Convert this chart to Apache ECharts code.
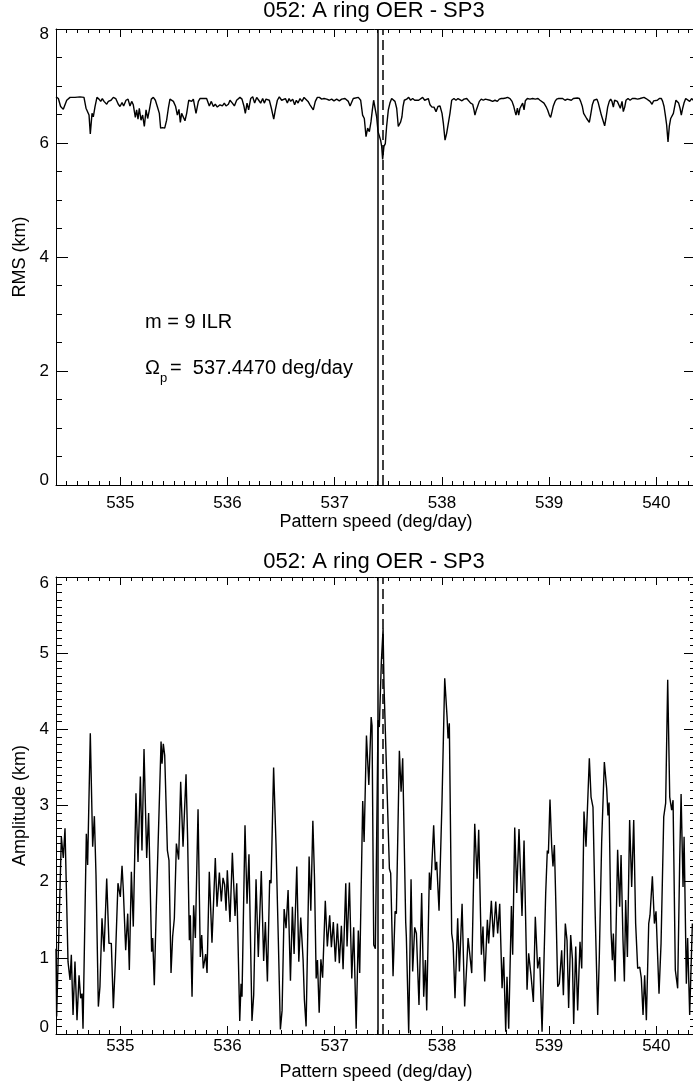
<!DOCTYPE html>
<html><head><meta charset="utf-8">
<script src="https://cdn.jsdelivr.net/npm/echarts@6/dist/echarts.min.js"></script>
<style>html,body{margin:0;padding:0;background:#fff}#c{width:693px;height:1084px}</style>
</head><body><div id="c"></div>
<script>
// ---------- texts ----------
const titleText = '052: A ring OER - SP3';
const xName = 'Pattern speed (deg/day)';
const rmsName = 'RMS (km)';
const ampName = 'Amplitude (km)';
const noteResonance = 'm = 9 ILR';
const noteOmegaValue = '=  537.4470 deg/day';

// ---------- axes ----------
const xMin = 534.4, xMax = 540.37;
const xMajorTicks = [535, 536, 537, 538, 539, 540];
const rmsRange = [0, 8], rmsStep = 2;
const ampRange = [0, 6], ampStep = 1;

// ---------- reference lines ----------
const solidLineX = 537.40;
const dashedLineX = 537.447;

// ---------- data: [pattern speed (deg/day), RMS (km)] ----------
const rmsPoints = [
[534.400,6.81],[534.422,6.78],[534.443,6.64],[534.468,6.59],[534.484,6.61],[534.500,6.75],[534.531,6.80],[534.577,6.80],[534.624,6.81],[534.661,6.80],
[534.680,6.61],[534.695,6.58],[534.708,6.49],[534.720,6.16],[534.736,6.52],[534.748,6.46],[534.764,6.64],[534.782,6.80],[534.801,6.77],[534.817,6.73],
[534.832,6.78],[534.848,6.73],[534.873,6.68],[534.888,6.73],[534.913,6.75],[534.935,6.80],[534.957,6.78],[534.981,6.68],[534.997,6.64],[535.016,6.71],
[535.031,6.65],[535.053,6.75],[535.072,6.77],[535.090,6.65],[535.106,6.73],[535.121,6.67],[535.140,6.45],[535.152,6.58],[535.165,6.42],[535.177,6.61],
[535.193,6.40],[535.208,6.49],[535.224,6.29],[535.240,6.58],[535.255,6.43],[535.271,6.58],[535.289,6.77],[535.308,6.80],[535.327,6.75],[535.345,6.64],
[535.364,6.52],[535.376,6.26],[535.395,6.27],[535.414,6.26],[535.432,6.40],[535.448,6.61],[535.463,6.77],[535.479,6.78],[535.495,6.73],[535.516,6.64],
[535.532,6.49],[535.547,6.59],[535.560,6.36],[535.572,6.52],[535.588,6.49],[535.603,6.39],[535.619,6.52],[535.638,6.75],[535.650,6.77],[535.666,6.73],
[535.681,6.77],[535.706,6.52],[535.728,6.73],[535.743,6.78],[535.774,6.78],[535.805,6.78],[535.830,6.65],[535.849,6.73],[535.868,6.64],[535.886,6.68],
[535.905,6.63],[535.930,6.67],[535.952,6.65],[535.970,6.70],[535.986,6.65],[536.008,6.68],[536.023,6.75],[536.045,6.70],[536.064,6.65],[536.085,6.75],
[536.101,6.73],[536.116,6.80],[536.135,6.77],[536.154,6.64],[536.166,6.52],[536.182,6.70],[536.197,6.58],[536.216,6.78],[536.235,6.81],[536.253,6.70],
[536.272,6.80],[536.291,6.75],[536.309,6.70],[536.328,6.78],[536.343,6.70],[536.359,6.77],[536.374,6.78],[536.390,6.75],[536.409,6.61],[536.431,6.42],
[536.446,6.58],[536.465,6.75],[536.483,6.81],[536.505,6.75],[536.521,6.73],[536.540,6.78],[536.558,6.70],[536.574,6.78],[536.589,6.73],[536.608,6.77],
[536.626,6.67],[536.642,6.75],[536.658,6.70],[536.676,6.78],[536.695,6.73],[536.714,6.80],[536.732,6.78],[536.751,6.73],[536.769,6.67],[536.785,6.64],
[536.800,6.58],[536.819,6.73],[536.838,6.80],[536.857,6.80],[536.878,6.77],[536.900,6.78],[536.925,6.77],[536.950,6.75],[536.971,6.77],[536.993,6.74],
[537.018,6.77],[537.043,6.74],[537.065,6.77],[537.096,6.78],[537.127,6.73],[537.143,6.65],[537.173,6.78],[537.220,6.80],[537.242,6.75],[537.260,6.49],
[537.276,6.43],[537.292,6.11],[537.307,6.26],[537.323,6.20],[537.338,6.37],[537.351,6.58],[537.363,6.75],[537.379,6.75],[537.391,6.46],[537.404,6.20],
[537.416,6.17],[537.428,6.05],[537.438,5.94],[537.447,5.71],[537.459,5.94],[537.472,5.99],[537.484,6.29],[537.500,6.58],[537.515,6.70],[537.531,6.78],
[537.547,6.75],[537.562,6.73],[537.578,6.61],[537.593,6.29],[537.602,6.26],[537.615,6.37],[537.627,6.46],[537.637,6.64],[537.649,6.75],[537.671,6.77],
[537.690,6.80],[537.708,6.75],[537.727,6.78],[537.746,6.75],[537.764,6.78],[537.783,6.75],[537.801,6.78],[537.820,6.80],[537.839,6.75],[537.857,6.73],
[537.873,6.78],[537.889,6.67],[537.907,6.63],[537.926,6.63],[537.945,6.55],[537.963,6.64],[537.982,6.65],[538.001,6.52],[538.013,6.35],[538.029,6.05],
[538.044,6.17],[538.060,6.20],[538.075,6.52],[538.091,6.75],[538.112,6.78],[538.131,6.75],[538.150,6.78],[538.168,6.77],[538.187,6.74],[538.206,6.77],
[538.231,6.78],[538.249,6.75],[538.268,6.70],[538.287,6.68],[538.299,6.58],[538.308,6.49],[538.321,6.58],[538.333,6.61],[538.349,6.73],[538.367,6.77],
[538.386,6.75],[538.405,6.77],[538.423,6.74],[538.448,6.75],[538.473,6.73],[538.495,6.75],[538.517,6.73],[538.535,6.77],[538.554,6.78],[538.573,6.78],
[538.594,6.79],[538.613,6.80],[538.635,6.78],[538.654,6.73],[538.669,6.65],[538.682,6.55],[538.691,6.49],[538.704,6.61],[538.716,6.49],[538.728,6.61],
[538.741,6.58],[538.753,6.70],[538.766,6.58],[538.778,6.74],[538.797,6.78],[538.821,6.77],[538.846,6.78],[538.871,6.77],[538.896,6.78],[538.915,6.75],
[538.933,6.73],[538.952,6.70],[538.971,6.64],[538.986,6.58],[539.002,6.49],[539.014,6.45],[539.027,6.55],[539.039,6.65],[539.055,6.73],[539.070,6.77],
[539.089,6.78],[539.107,6.77],[539.126,6.78],[539.148,6.75],[539.170,6.77],[539.188,6.78],[539.207,6.75],[539.226,6.78],[539.244,6.77],[539.263,6.79],
[539.282,6.78],[539.294,6.73],[539.310,6.64],[539.322,6.52],[539.335,6.49],[539.350,6.43],[539.362,6.40],[539.375,6.36],[539.387,6.49],[539.403,6.67],
[539.418,6.75],[539.434,6.78],[539.446,6.77],[539.459,6.70],[539.471,6.61],[539.487,6.49],[539.502,6.40],[539.518,6.30],[539.530,6.43],[539.546,6.63],
[539.561,6.73],[539.574,6.77],[539.586,6.73],[539.599,6.63],[539.611,6.75],[539.624,6.77],[539.636,6.73],[539.649,6.75],[539.664,6.61],[539.680,6.73],
[539.692,6.55],[539.705,6.63],[539.717,6.75],[539.736,6.78],[539.755,6.75],[539.776,6.78],[539.801,6.78],[539.826,6.77],[539.848,6.78],[539.866,6.78],
[539.885,6.80],[539.904,6.78],[539.922,6.75],[539.941,6.73],[539.960,6.68],[539.975,6.74],[539.991,6.77],[540.009,6.75],[540.028,6.78],[540.047,6.78],
[540.059,6.73],[540.072,6.64],[540.084,6.49],[540.096,6.32],[540.109,6.02],[540.121,6.29],[540.134,6.43],[540.146,6.46],[540.159,6.52],[540.171,6.64],
[540.183,6.75],[540.196,6.78],[540.208,6.70],[540.221,6.61],[540.233,6.49],[540.246,6.61],[540.258,6.70],[540.274,6.78],[540.292,6.75],[540.311,6.73],
[540.329,6.78],[540.345,6.75]
];

// ---------- data: [pattern speed (deg/day), amplitude (km)] ----------
const ampPoints = [
[534.400,1.12],[534.406,0.23],[534.450,2.59],[534.468,2.31],[534.484,2.70],[534.512,0.95],[534.531,0.71],[534.543,1.04],[534.559,0.25],[534.577,0.95],
[534.596,0.18],[534.615,0.77],[534.630,0.47],[534.643,0.53],[534.652,0.07],[534.683,2.63],[534.695,2.22],[534.720,3.95],[534.742,2.46],[534.758,2.86],
[534.773,2.09],[534.795,0.36],[534.810,0.62],[534.829,1.52],[534.848,1.08],[534.873,2.04],[534.894,1.19],[534.916,1.19],[534.935,0.34],[534.953,0.93],
[534.978,1.98],[535.000,1.80],[535.016,2.21],[535.028,1.89],[535.050,1.10],[535.069,1.58],[535.084,0.84],[535.103,2.13],[535.121,1.41],[535.146,3.16],
[535.165,2.26],[535.187,3.38],[535.202,2.41],[535.221,3.74],[535.246,2.31],[535.264,2.90],[535.292,1.08],[535.302,1.26],[535.317,0.64],[535.336,1.69],
[535.345,1.67],[535.380,3.84],[535.389,3.55],[535.401,3.81],[535.414,3.66],[535.439,2.41],[535.454,2.28],[535.473,0.80],[535.488,1.28],[535.504,1.52],
[535.523,2.50],[535.544,2.29],[535.563,3.31],[535.585,2.46],[535.613,3.41],[535.628,2.55],[535.644,1.23],[535.653,1.56],[535.669,0.49],[535.684,1.69],
[535.700,1.26],[535.725,2.95],[535.746,1.01],[535.759,1.30],[535.774,0.86],[535.796,1.05],[535.809,0.80],[535.830,2.13],[535.855,1.20],[535.886,2.31],
[535.902,1.67],[535.924,2.12],[535.942,1.74],[535.958,2.05],[535.973,1.96],[535.986,1.62],[535.998,2.15],[536.023,1.47],[536.045,2.38],[536.070,1.55],
[536.086,1.98],[536.114,0.17],[536.126,0.66],[536.135,0.49],[536.163,2.74],[536.182,1.71],[536.200,2.36],[536.228,0.17],[536.244,0.51],[536.266,2.03],
[536.287,1.01],[536.315,2.14],[536.337,0.96],[536.353,1.47],[536.372,0.69],[536.393,2.02],[536.406,1.98],[536.430,3.50],[536.452,2.50],[536.474,1.23],
[536.493,0.06],[536.509,0.31],[536.528,1.64],[536.546,1.39],[536.565,1.89],[536.587,0.70],[536.605,1.67],[536.621,1.05],[536.646,2.20],[536.665,0.95],
[536.683,1.53],[536.705,0.97],[536.717,0.45],[536.727,0.47],[536.733,0.10],[536.761,2.33],[536.777,1.62],[536.796,2.80],[536.811,2.06],[536.827,0.73],
[536.839,0.97],[536.855,0.28],[536.871,0.98],[536.887,0.74],[536.912,1.75],[536.931,1.15],[536.953,1.56],[536.969,1.14],[536.987,1.47],[537.006,0.95],
[537.025,1.45],[537.043,0.93],[537.062,1.42],[537.078,0.85],[537.103,1.98],[537.115,1.15],[537.137,1.99],[537.159,0.73],[537.177,1.40],[537.200,0.07],
[537.220,1.36],[537.233,0.80],[537.261,3.06],[537.274,2.52],[537.296,3.92],[537.318,3.27],[537.340,4.16],[537.348,4.05],[537.364,1.17],[537.379,1.12],
[537.404,4.12],[537.416,4.03],[537.435,4.89],[537.451,5.32],[537.460,4.56],[537.472,4.58],[537.510,2.17],[537.522,2.11],[537.544,0.76],[537.563,1.61],
[537.575,1.58],[537.603,3.72],[537.619,3.18],[537.634,3.62],[537.662,1.47],[537.668,1.28],[537.690,0.01],[537.712,2.03],[537.727,0.82],[537.746,1.40],
[537.762,1.32],[537.786,0.38],[537.811,1.85],[537.830,0.49],[537.846,0.97],[537.858,0.31],[537.883,2.12],[537.895,1.89],[537.923,2.74],[537.939,2.15],
[537.951,2.26],[537.973,1.62],[538.001,3.07],[538.026,4.67],[538.048,4.16],[538.057,3.88],[538.069,4.08],[538.091,1.32],[538.104,1.19],[538.122,0.47],
[538.147,1.52],[538.163,0.82],[538.188,1.71],[538.212,0.36],[538.244,1.26],[538.259,1.06],[538.278,0.80],[538.306,2.76],[538.328,2.04],[538.343,2.68],
[538.368,1.04],[538.383,1.41],[538.399,0.69],[538.424,1.50],[538.436,1.19],[538.461,1.75],[538.480,1.27],[538.502,1.74],[538.520,1.32],[538.539,1.71],
[538.561,0.60],[538.576,1.01],[538.595,0.03],[538.607,0.75],[538.623,0.07],[538.648,1.68],[538.660,1.04],[538.679,2.71],[538.698,1.85],[538.719,2.69],
[538.747,1.55],[538.766,2.54],[538.794,0.58],[538.809,1.06],[538.831,0.77],[538.853,0.42],[538.871,1.54],[538.893,0.86],[538.912,1.01],[538.934,0.03],
[538.949,0.80],[538.968,1.85],[538.983,2.41],[538.993,2.37],[539.008,3.08],[539.024,2.46],[539.036,2.20],[539.049,2.48],[539.064,1.63],[539.080,0.62],
[539.095,0.66],[539.117,1.10],[539.133,0.51],[539.151,1.45],[539.167,1.23],[539.182,0.34],[539.201,1.30],[539.217,0.99],[539.229,0.13],[539.248,1.15],
[539.266,0.31],[539.288,1.21],[539.304,0.86],[539.325,2.92],[539.344,2.46],[539.375,3.62],[539.391,3.11],[539.409,2.98],[539.428,1.67],[539.453,0.25],
[539.468,1.01],[539.490,2.52],[539.515,3.57],[539.537,3.22],[539.549,2.87],[539.559,3.04],[539.577,1.36],[539.590,0.97],[539.599,1.32],[539.615,0.69],
[539.639,2.42],[539.658,1.67],[539.671,2.35],[539.689,1.23],[539.702,0.69],[539.714,1.76],[539.730,1.01],[539.751,2.81],[539.770,1.93],[539.789,2.81],
[539.807,1.45],[539.826,0.86],[539.845,0.88],[539.860,0.73],[539.876,0.25],[539.891,0.77],[539.907,0.18],[539.929,1.45],[539.941,1.56],[539.963,2.07],
[539.982,1.45],[539.997,1.61],[540.025,0.53],[540.044,1.19],[540.069,2.85],[540.087,3.03],[540.106,4.65],[540.125,3.11],[540.143,2.94],[540.156,3.07],
[540.177,0.84],[540.199,0.60],[540.218,2.28],[540.231,3.15],[540.249,1.93],[540.259,2.59],[540.280,0.66],[540.292,1.26],[540.311,0.25],[540.336,1.45]
];

// ---------- styling ----------
const FONT = '"Liberation Sans", Arial, Helvetica, sans-serif';
const BLACK = '#000';
const tickFont = {fontFamily: FONT, fontSize: 17, color: BLACK};
const nameFont = {fontFamily: FONT, fontSize: 18, color: BLACK};

function xMajor(grid, pos, labels, margin, nameGap) {
  return {
    type: 'value', gridIndex: grid, position: pos, min: xMin, max: xMax,
    axisLine: {show: true, onZero: false, lineStyle: {color: BLACK, width: 1}},
    axisTick: {show: true, inside: true, length: 8, customValues: xMajorTicks, lineStyle: {color: BLACK, width: 1}},
    axisLabel: Object.assign({show: labels, customValues: xMajorTicks, margin: margin}, tickFont),
    splitLine: {show: false}, minorTick: {show: false},
    name: labels ? xName : '', nameLocation: 'middle', nameGap: nameGap || 20, nameTextStyle: nameFont,
    silent: true
  };
}
function xMinor(grid, pos) {
  return {
    type: 'value', gridIndex: grid, position: pos, min: xMin, max: xMax, interval: 0.1,
    axisLine: {show: false, onZero: false},
    axisTick: {show: true, inside: true, length: 4, lineStyle: {color: BLACK, width: 1}},
    axisLabel: {show: false}, splitLine: {show: false}, silent: true
  };
}
function yAxisDef(grid, pos, range, step, minorSplit, labels, name, endPad) {
  const lo = range[0], hi = range[1];
  return {
    type: 'value', gridIndex: grid, position: pos, min: lo, max: hi, interval: step,
    axisLine: {show: true, onZero: false, lineStyle: {color: BLACK, width: 1}},
    axisTick: {show: true, inside: true, length: 12, lineStyle: {color: BLACK, width: 1}},
    minorTick: {show: true, splitNumber: minorSplit, length: 6, lineStyle: {color: BLACK, width: 1}},
    axisLabel: Object.assign({
      show: labels, margin: 7,
      formatter: function (v) { return v === lo ? '{lo|' + v + '}' : (v === hi ? '{hi|' + v + '}' : '{m|' + v + '}'); },
      rich: {
        lo: Object.assign({padding: [0, 0, endPad, 0]}, tickFont),
        hi: Object.assign({padding: [endPad, 0, 0, 0]}, tickFont),
        m: tickFont
      }
    }, tickFont),
    splitLine: {show: false}, minorSplitLine: {show: false},
    name: labels ? name : '', nameLocation: 'middle', nameGap: 26, nameRotate: 90, nameTextStyle: nameFont,
    silent: true
  };
}
function refLines() {
  return {
    silent: true, symbol: ['none', 'none'], animation: false,
    label: {show: false},
    lineStyle: {color: BLACK, width: 1.5, type: 'solid'},
    emphasis: {disabled: true},
    data: [
      {xAxis: solidLineX},
      {xAxis: dashedLineX, lineStyle: {type: [10, 5], color: BLACK, width: 1.5}}
    ]
  };
}
function textEl(x, y, text, size, align) {
  return {type: 'text', x: x, y: y, silent: true,
    style: {text: text, fontFamily: FONT, fontSize: size, fill: BLACK, align: align || 'left', verticalAlign: 'middle'}};
}

const chart = echarts.init(document.getElementById('c'), null, {renderer: 'canvas'});
chart.setOption({
  animation: false,
  backgroundColor: '#fff',
  grid: [
    {left: 56, top: 29, width: 640, height: 456, outerBoundsMode: 'none', containLabel: false},
    {left: 56, top: 577, width: 640, height: 457, outerBoundsMode: 'none', containLabel: false}
  ],
  xAxis: [
    xMajor(0, 'bottom', true, 10, 28), xMinor(0, 'bottom'),
    xMajor(0, 'top', false), xMinor(0, 'top'),
    xMajor(1, 'bottom', true, 3.5, 29.5), xMinor(1, 'bottom'),
    xMajor(1, 'top', false), xMinor(1, 'top')
  ],
  yAxis: [
    yAxisDef(0, 'left', rmsRange, rmsStep, 4, true, rmsName, 10),
    yAxisDef(0, 'right', rmsRange, rmsStep, 4, false, '', 0),
    yAxisDef(1, 'left', ampRange, ampStep, 10, true, ampName, 13),
    yAxisDef(1, 'right', ampRange, ampStep, 10, false, '', 0)
  ],
  series: [
    {type: 'line', name: rmsName, xAxisIndex: 0, yAxisIndex: 0, data: rmsPoints,
     showSymbol: false, symbol: 'none', clip: true, silent: true,
     lineStyle: {color: BLACK, width: 1.4}, markLine: refLines()},
    {type: 'line', name: ampName, xAxisIndex: 4, yAxisIndex: 2, data: ampPoints,
     showSymbol: false, symbol: 'none', clip: true, silent: true,
     lineStyle: {color: BLACK, width: 1.4}, markLine: refLines()}
  ],
  graphic: [
    textEl(374, 11, titleText, 22, 'center'),
    textEl(374, 562, titleText, 22, 'center'),
    textEl(145, 322, noteResonance, 20),
    textEl(145, 368, 'Ω', 20),
    textEl(160, 378, 'p', 13),
    textEl(170, 368, noteOmegaValue, 20)
  ]
});
</script>
</body></html>
